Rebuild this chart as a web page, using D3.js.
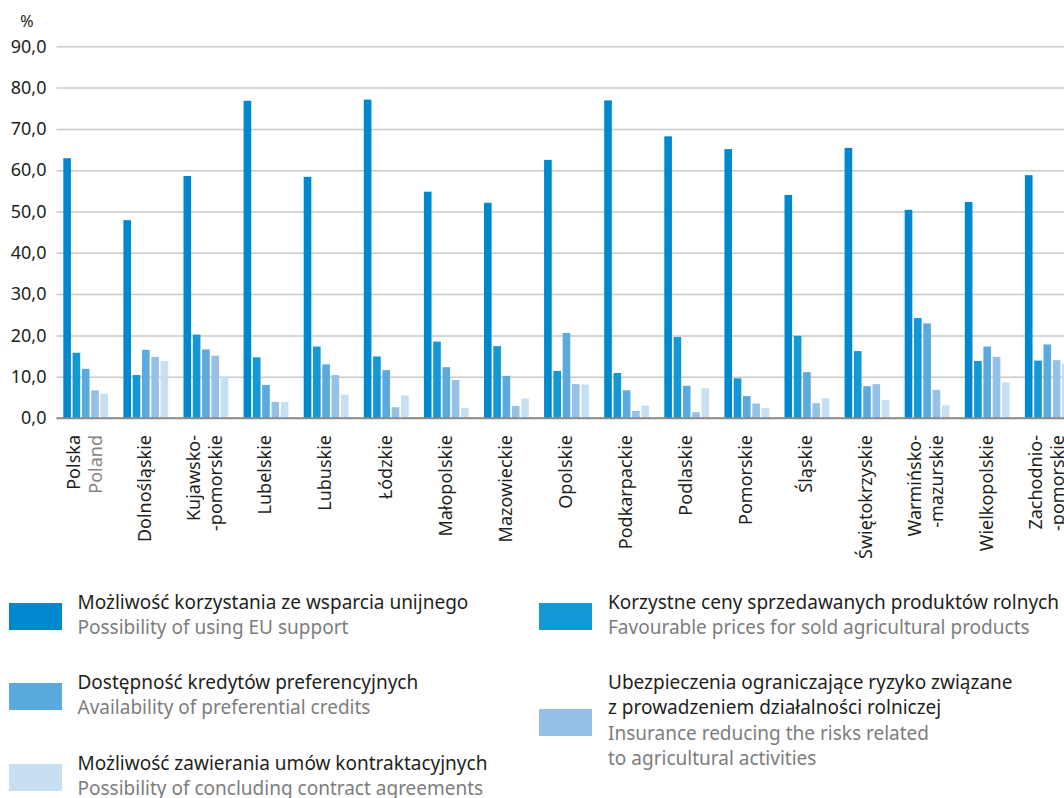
<!DOCTYPE html>
<html>
<head>
<meta charset="utf-8">
<script src="https://cdn.jsdelivr.net/npm/d3@7"></script>
<style>
  html, body { margin: 0; padding: 0; background: #fff; overflow: hidden; }
  svg { display: block; font-family: "Noto Sans", "Open Sans", sans-serif; }
</style>
</head>
<body>
<svg id="chart" width="1064" height="798"></svg>
<script>
// ---------- DATA ----------
const categories = ["Polska", "Dolnośląskie", "Kujawsko-pomorskie", "Lubelskie", "Lubuskie", "Łódzkie",
  "Małopolskie", "Mazowieckie", "Opolskie", "Podkarpackie", "Podlaskie", "Pomorskie", "Śląskie",
  "Świętokrzyskie", "Warmińsko-mazurskie", "Wielkopolskie", "Zachodniopomorskie"];
const categoryLabels = [["Polska", "Poland"], ["Dolnośląskie"], ["Kujawsko-", "-pomorskie"], ["Lubelskie"],
  ["Lubuskie"], ["Łódzkie"], ["Małopolskie"], ["Mazowieckie"], ["Opolskie"], ["Podkarpackie"], ["Podlaskie"],
  ["Pomorskie"], ["Śląskie"], ["Świętokrzyskie"], ["Warmińsko-", "-mazurskie"], ["Wielkopolskie"],
  ["Zachodnio-", "-pomorskie"]];

const euSupport   = [62.9, 47.9, 58.6, 76.8, 58.4, 77.1, 54.8, 52.1, 62.5, 76.9, 68.2, 65.1, 54.0, 65.4, 50.4, 52.3, 58.8];
const goodPrices  = [15.8, 10.4, 20.2, 14.7, 17.3, 14.9, 18.5, 17.4, 11.4, 10.9, 19.6, 9.6, 19.9, 16.2, 24.2, 13.8, 13.9];
const credits     = [11.9, 16.5, 16.6, 8.0, 13.0, 11.6, 12.3, 10.2, 20.6, 6.7, 7.8, 5.3, 11.1, 7.7, 22.9, 17.3, 17.8];
const insurance   = [6.7, 14.8, 15.1, 3.9, 10.4, 2.6, 9.2, 2.9, 8.2, 1.7, 1.4, 3.5, 3.6, 8.2, 6.8, 14.8, 14.0];
const contracts   = [5.9, 13.8, 10.0, 3.9, 5.7, 5.5, 2.4, 4.7, 8.1, 3.0, 7.2, 2.4, 4.8, 4.4, 3.1, 8.6, 13.1];

const seriesKeys = ["euSupport", "goodPrices", "credits", "insurance", "contracts"];
const seriesValues = [euSupport, goodPrices, credits, insurance, contracts];
const seriesColors = ["#0088ce", "#1498d5", "#5aaadd", "#95c1e7", "#c6dff3"];
const seriesNamesPL = ["Możliwość korzystania ze wsparcia unijnego", "Korzystne ceny sprzedawanych produktów rolnych",
  "Dostępność kredytów preferencyjnych", "Ubezpieczenia ograniczające ryzyko związane|z prowadzeniem działalności rolniczej",
  "Możliwość zawierania umów kontraktacyjnych"];
const seriesNamesEN = ["Possibility of using EU support", "Favourable prices for sold agricultural products",
  "Availability of preferential credits", "Insurance reducing the risks related|to agricultural activities",
  "Possibility of concluding contract agreements"];

const yTicks = [0, 10, 20, 30, 40, 50, 60, 70, 80, 90];
const yUnit = "%";

// ---------- LAYOUT ----------
const svg = d3.select("#chart");
const W = 1064;
const left = 56.5, step = 60.1;
const y0 = 418, yTop = 46.3;

const x = d3.scaleBand().domain(categories).range([left, left + step * categories.length]).padding(0);
const xInner = d3.scaleBand().domain(seriesKeys).range([6.8, 6.8 + 44.8]).paddingInner(0.18).paddingOuter(0);
const y = d3.scaleLinear().domain([0, 90]).range([y0, yTop]);

// gridlines
const grid = svg.append("g").attr("transform", `translate(${left},0)`)
  .call(d3.axisLeft(y).tickValues(yTicks).tickSize(-(W - left)).tickFormat(""));
grid.select(".domain").remove();
grid.selectAll(".tick line")
  .attr("stroke", d => d === 0 ? "#8a8a8a" : "#c9c9c9")
  .attr("stroke-width", 1.5);

// y labels
const yAxis = svg.append("g").attr("transform", `translate(${left},0)`)
  .call(d3.axisLeft(y).tickValues(yTicks).tickSize(0).tickPadding(10)
    .tickFormat(d => d3.format(".1f")(d).replace(".", ",")));
yAxis.select(".domain").remove();
yAxis.attr("font-size", null).attr("font-family", null);
yAxis.selectAll("text").style("font-size", "18px").attr("fill", "#231f20");

svg.append("text").attr("x", 27).attr("y", 27).attr("text-anchor", "middle")
  .style("font-size", "16px").attr("fill", "#231f20").text(yUnit);

// bars
const groups = svg.append("g").selectAll("g").data(categories).join("g")
  .attr("transform", d => `translate(${x(d)},0)`);
groups.selectAll("rect")
  .data((d, i) => seriesKeys.map((k, si) => ({ key: k, value: seriesValues[si][i], color: seriesColors[si] })))
  .join("rect")
  .attr("x", d => xInner(d.key))
  .attr("width", xInner.bandwidth())
  .attr("y", d => y(d.value))
  .attr("height", d => y0 - y(d.value))
  .attr("fill", d => d.color);

// redraw baseline on top
svg.append("line").attr("x1", left).attr("x2", W).attr("y1", y0).attr("y2", y0)
  .attr("stroke", "#8a8a8a").attr("stroke-width", 1.5);

// x labels
const lineGap = 22;
categories.forEach((c, i) => {
  const lines = categoryLabels[i];
  const cx = x(c) + x.bandwidth() / 2 - 2;
  const t = svg.append("text")
    .attr("transform", `translate(${cx},435) rotate(-90)`)
    .attr("text-anchor", "end")
    .style("font-size", "18px");
  lines.forEach((ln, li) => {
    const off = (li - (lines.length - 1) / 2) * lineGap + 6.5;
    t.append("tspan").attr("x", 0).attr("y", off)
      .attr("fill", (i === 0 && li === 1) ? "#858585" : "#231f20")
      .text(ln);
  });
});

// legend
const legendPos = [
  { sx: 9, tx: 77.5, y: 603 },    // euSupport
  { sx: 539, tx: 608, y: 603 },   // goodPrices
  { sx: 9, tx: 77.5, y: 683 },    // credits
  { sx: 539, tx: 608, y: 709 },   // insurance
  { sx: 9, tx: 77.5, y: 764 }     // contracts
];
const legendTextTop = [609, 609, 689, 689, 770];
seriesKeys.forEach((k, si) => {
  const p = legendPos[si];
  svg.append("rect").attr("x", p.sx).attr("y", p.y).attr("width", 53).attr("height", 27)
    .attr("fill", seriesColors[si]);
  const pl = seriesNamesPL[si].split("|");
  const en = seriesNamesEN[si].split("|");
  let by = legendTextTop[si];
  pl.forEach(l => {
    svg.append("text").attr("x", p.tx).attr("y", by).style("font-size", "19px")
      .attr("fill", "#231f20").text(l);
    by += 25.3;
  });
  en.forEach(l => {
    svg.append("text").attr("x", p.tx).attr("y", by).style("font-size", "19px")
      .attr("fill", "#7d7d7d").text(l);
    by += 25.3;
  });
});
</script>
</body>
</html>
